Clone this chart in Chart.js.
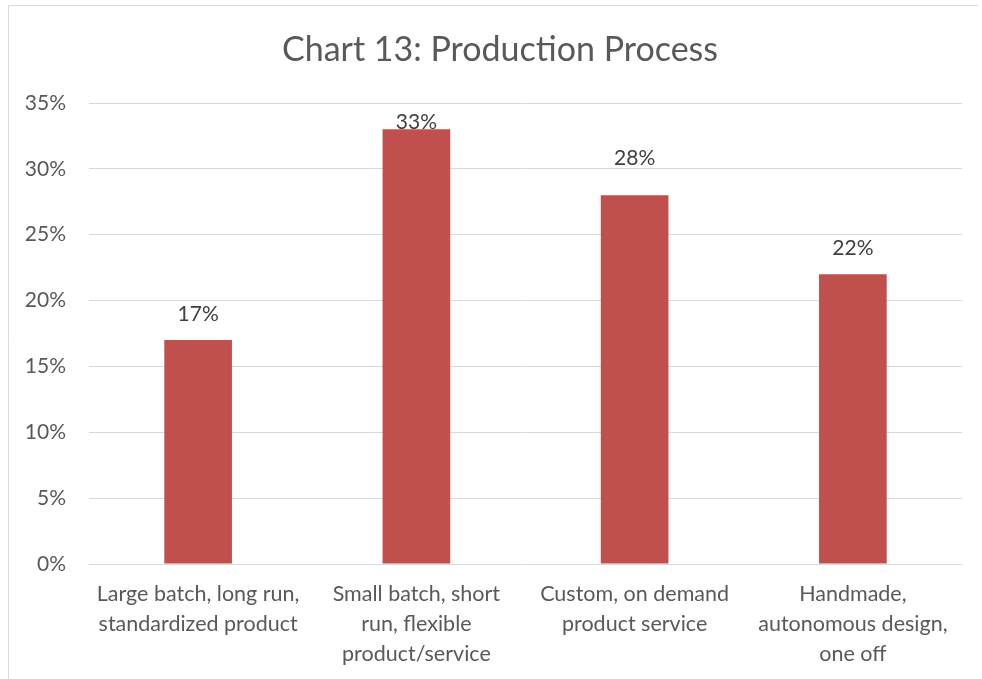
<!DOCTYPE html>
<html>
<head>
<meta charset="utf-8">
<title>Chart 13: Production Process</title>
<script src="https://cdn.jsdelivr.net/npm/chart.js@4.4.0/dist/chart.umd.min.js"></script>
<style>
    html, body { margin: 0; padding: 0; background: #fff; }
    #wrap { position: relative; width: 982px; height: 679px; }
</style>
</head>
<body>
<div id="wrap"><canvas id="myChart" width="982" height="679"></canvas></div>
<script>
var chartTitle = "Chart 13: Production Process";
var categories = [
    ["Large batch, long run,", "standardized product"],
    ["Small batch, short", "run, flexible", "product/service"],
    ["Custom, on demand", "product service"],
    ["Handmade,", "autonomous design,", "one off"]
];
var shares = [17, 33, 28, 22];
var yTicks = [0, 5, 10, 15, 20, 25, 30, 35];

var fontFamily = "Lato, 'Open Sans', sans-serif";
var textGray = "#595959";
var gridGray = "#d9d9d9";
var barRed = "#c0504d";

// frame around the chart and the title, centred on the frame like Excel does
var framePlugin = {
    id: 'frame',
    beforeDraw: function (chart) {
        var c = chart.ctx;
        c.save();
        c.strokeStyle = gridGray;
        c.lineWidth = 1;
        c.beginPath();
        c.moveTo(8.5, 679);
        c.lineTo(8.5, 5.5);
        c.lineTo(978, 5.5);
        c.stroke();

        c.fillStyle = textGray;
        c.font = "34px " + fontFamily;
        c.textAlign = "center";
        c.textBaseline = "middle";
        c.fillText(chartTitle, 500, 50);
        c.restore();
    }
};

// value labels above the bars, kept off the gridlines
var labelPlugin = {
    id: 'barLabels',
    afterDatasetsDraw: function (chart) {
        var c = chart.ctx;
        var meta = chart.getDatasetMeta(0);
        var yScale = chart.scales.y;
        var top = chart.chartArea.top;
        var half = 11;
        c.save();
        c.fillStyle = "#404040";
        c.font = "21px " + fontFamily;
        c.textAlign = "center";
        c.textBaseline = "middle";
        meta.data.forEach(function (bar, i) {
            var y = bar.y - 26;
            if (y < top + 19) y = top + 19;
            yTicks.forEach(function (t) {
                var gy = yScale.getPixelForValue(t);
                if (gy > y - half && gy < y + half) y = gy - half;
            });
            c.fillText(shares[i] + "%", bar.x, y);
        });
        c.restore();
    }
};

var ctx = document.getElementById("myChart");
var myChart = new Chart(ctx, {
    type: 'bar',
    data: {
        labels: categories,
        datasets: [{
            data: shares,
            backgroundColor: barRed,
            borderWidth: 0,
            barPercentage: 0.31,
            categoryPercentage: 1
        }]
    },
    options: {
        responsive: false,
        animation: false,
        layout: { padding: { left: 0, right: 20, top: 103, bottom: 0 } },
        plugins: {
            legend: { display: false },
            tooltip: { enabled: false },
            title: { display: false }
        },
        scales: {
            x: {
                afterFit: function (scale) { scale.height = 115; },
                grid: { display: false },
                border: { display: false },
                ticks: {
                    color: textGray,
                    font: { family: fontFamily, size: 21.5, lineHeight: 30 / 21.5 },
                    padding: 7,
                    maxRotation: 0,
                    autoSkip: false
                }
            },
            y: {
                min: 0,
                max: 35,
                afterFit: function (scale) { scale.width = 89; },
                afterBuildTicks: function (scale) {
                    scale.ticks = yTicks.map(function (v) { return { value: v }; });
                },
                grid: { color: gridGray, lineWidth: 1, drawTicks: false },
                border: { display: false },
                ticks: {
                    color: textGray,
                    font: { family: fontFamily, size: 21 },
                    padding: 23,
                    callback: function (v) { return v + "%"; }
                }
            }
        }
    },
    plugins: [framePlugin, labelPlugin]
});
</script>
</body>
</html>
